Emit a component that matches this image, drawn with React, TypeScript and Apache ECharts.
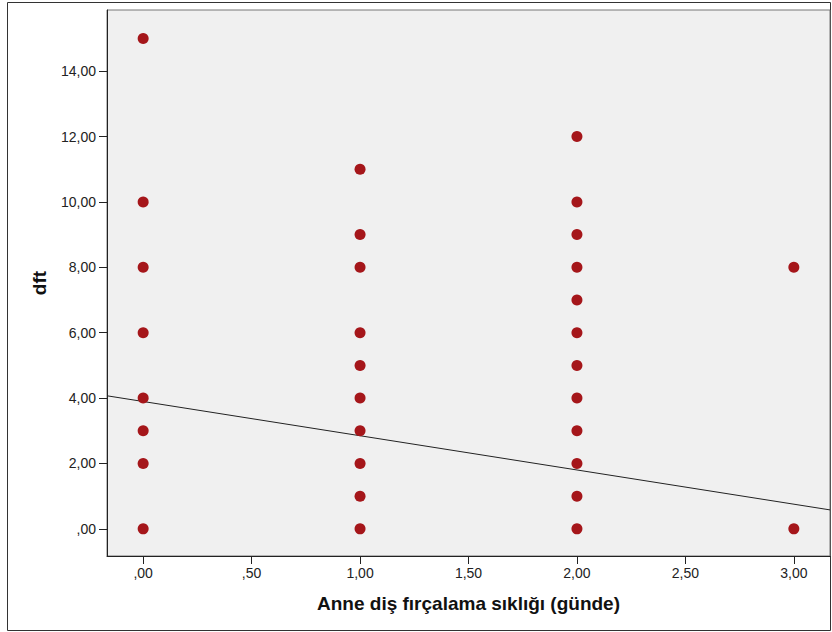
import React, { useEffect, useRef } from "react";
import * as echarts from "echarts";

const frequencies = [0, 1, 2, 3];
const dftAtZero = [15, 10, 8, 6, 4, 3, 2, 0];
const dftAtOne = [11, 9, 8, 6, 5, 4, 3, 2, 1, 0];
const dftAtTwo = [12, 10, 9, 8, 7, 6, 5, 4, 3, 2, 1, 0];
const dftAtThree = [8, 0];
const xTicks = [0, 0.5, 1, 1.5, 2, 2.5, 3];
const yTicks = [0, 2, 4, 6, 8, 10, 12, 14];
const fitLine: [number, number][] = [
  [-0.1667, 4.07],
  [3.1667, 0.58],
];
const xTitle = "Anne diş fırçalama sıklığı (günde)";
const yTitle = "dft";

const fmt = (v: number) => {
  let s = Number(v).toFixed(2).replace(".", ",");
  if (s.startsWith("0,")) s = s.slice(1);
  return s;
};

export default function App() {
  const ref = useRef<HTMLDivElement>(null);
  useEffect(() => {
    if (!ref.current) return;
    const chart = echarts.init(ref.current, null, { renderer: "svg" });
    const groups = [dftAtZero, dftAtOne, dftAtTwo, dftAtThree];
    const points: [number, number][] = [];
    groups.forEach((g, i) => g.forEach((v) => points.push([frequencies[i], v])));
    const font = "Liberation Sans, Arial, sans-serif";
    chart.setOption({
      animation: false,
      backgroundColor: "#ffffff",
      graphic: [
        {
          type: "rect",
          shape: { x: 7.5, y: 2.5, width: 823, height: 628 },
          style: { fill: "none", stroke: "#333", lineWidth: 1 },
          silent: true,
          z: -1,
        },
      ],
      grid: {
        left: 107,
        top: 10,
        right: 2,
        bottom: 76,
        show: true,
        backgroundColor: "#f0f0f0",
        borderColor: "#777",
        borderWidth: 1,
      },
      xAxis: {
        type: "value",
        min: -0.1667,
        max: 3.1667,
        name: xTitle,
        nameLocation: "middle",
        nameGap: 38,
        nameTextStyle: { fontFamily: font, fontSize: 19, fontWeight: "bold", color: "#111" },
        axisLine: { show: true, onZero: false, lineStyle: { color: "#222", width: 1 } },
        axisTick: { show: true, length: 8, customValues: xTicks, lineStyle: { color: "#222" } },
        axisLabel: {
          customValues: xTicks,
          formatter: fmt,
          fontFamily: font,
          fontSize: 14,
          color: "#222",
          margin: 10,
        },
        splitLine: { show: false },
      },
      yAxis: {
        type: "value",
        min: -0.83,
        max: 15.87,
        name: yTitle,
        nameLocation: "middle",
        nameGap: 58,
        nameTextStyle: { fontFamily: font, fontSize: 19, fontWeight: "bold", color: "#111" },
        axisLine: { show: true, onZero: false, lineStyle: { color: "#222", width: 1 } },
        axisTick: { show: true, length: 8, customValues: yTicks, lineStyle: { color: "#222" } },
        axisLabel: {
          customValues: yTicks,
          formatter: fmt,
          fontFamily: font,
          fontSize: 14,
          color: "#222",
          margin: 11,
        },
        splitLine: { show: false },
      },
      series: [
        {
          type: "line",
          data: fitLine,
          symbol: "none",
          lineStyle: { color: "#222", width: 1 },
          silent: true,
          z: 1,
        },
        {
          type: "scatter",
          data: points,
          symbol: "circle",
          symbolSize: 11,
          itemStyle: { color: "#a5161a", opacity: 1 },
          z: 2,
        },
      ],
    });
    return () => chart.dispose();
  }, []);
  return (
    <div
      ref={ref}
      style={{ position: "fixed", left: 0, top: 0, width: 832, height: 632 }}
    />
  );
}
